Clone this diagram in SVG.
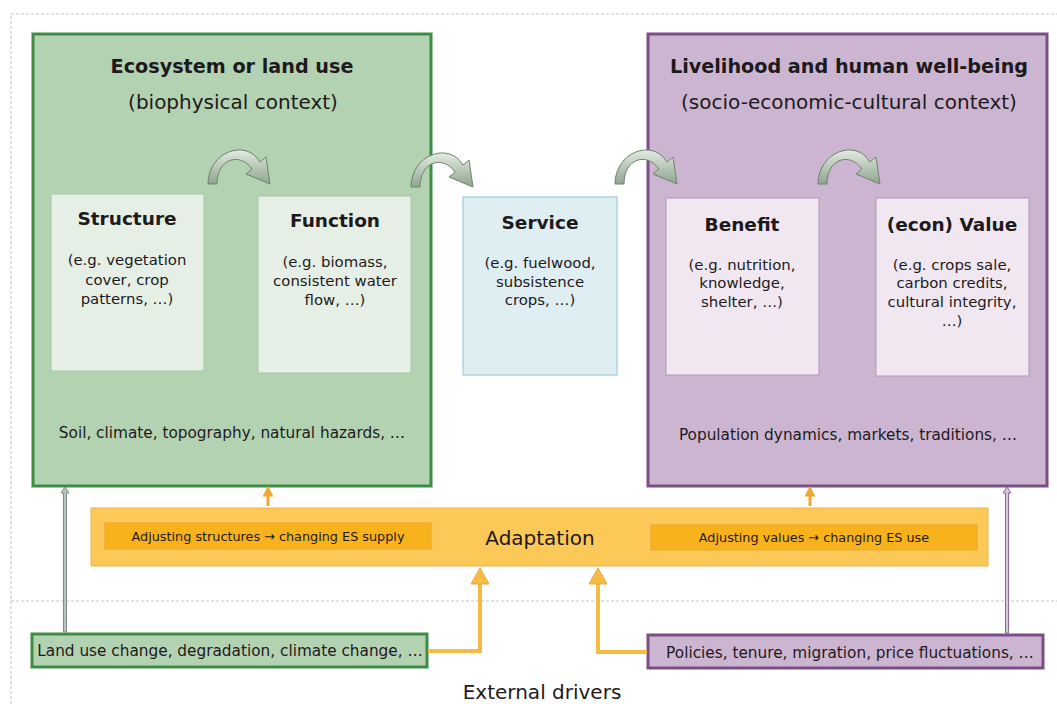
<svg xmlns="http://www.w3.org/2000/svg" width="1057" height="704" viewBox="0 0 1057 704">
<defs>
<style>
text{font-family:"DejaVu Sans","Liberation Sans",sans-serif;fill:#1e1a1c;text-anchor:middle}
.h{font-weight:bold;font-size:19.2px}
.sub{font-size:20px}
.t{font-weight:bold;font-size:18.5px}
.b{font-size:14.9px}
.m{font-size:15.3px}
.s{font-size:12.8px}
.dash{fill:none;stroke:#c4c4c4;stroke-width:1;stroke-dasharray:3 2}
.curve{fill:url(#cg);stroke:#6f836f;stroke-width:1}
.orange{fill:none;stroke:#f6bb45;stroke-width:4}
</style>
<linearGradient id="cg" x1="0" y1="0" x2="0" y2="1">
<stop offset="0" stop-color="#e3ebe1"/>
<stop offset="1" stop-color="#8fa58f"/>
</linearGradient>
<path id="carrow" class="curve" d="M0,36 C0,4 38,-10 52,14 L58,9 L62,36 L38,26 L44,21 C32,4 9,10 9,36 Z"/>
</defs>

<g id="frame">
<path class="dash" d="M11,704 L11,14 L1057,14"/>
<line class="dash" x1="11" y1="601" x2="1057" y2="601"/>
</g>

<g id="ecosystem">
<rect x="33" y="34" width="398" height="452" fill="#b3d2b2" stroke="#3f8c45" stroke-width="3"/>
<text class="h" x="232" y="73">Ecosystem or land use</text>
<text class="sub" x="233" y="109">(biophysical context)</text>
<text class="m" x="232" y="438">Soil, climate, topography, natural hazards, …</text>
</g>

<g id="livelihood">
<rect x="648" y="34" width="399" height="452" fill="#cbb5d0" stroke="#7b4f86" stroke-width="3"/>
<text class="h" x="849" y="73">Livelihood and human well-being</text>
<text class="sub" x="849" y="109">(socio-economic-cultural context)</text>
<text class="m" x="848" y="440">Population dynamics, markets, traditions, …</text>
</g>

<g id="structure">
<rect x="51" y="194" width="153" height="177" fill="#e6efe5" stroke="#a3c7a2" stroke-width="1"/>
<text class="t" x="127" y="225">Structure</text>
<text class="b" x="127" y="265">(e.g. vegetation</text>
<text class="b" x="127" y="285">cover, crop</text>
<text class="b" x="127" y="304">patterns, …)</text>
</g>

<g id="function">
<rect x="258" y="196" width="153" height="177" fill="#e6efe5" stroke="#a3c7a2" stroke-width="1"/>
<text class="t" x="335" y="227">Function</text>
<text class="b" x="335" y="267">(e.g. biomass,</text>
<text class="b" x="335" y="286">consistent water</text>
<text class="b" x="335" y="305">flow, …)</text>
</g>

<g id="service">
<rect x="463" y="197" width="154" height="178" fill="#dfeef3" stroke="#90c5d1" stroke-width="1"/>
<text class="t" x="540" y="229">Service</text>
<text class="b" x="540" y="268">(e.g. fuelwood,</text>
<text class="b" x="540" y="287">subsistence</text>
<text class="b" x="540" y="305">crops, …)</text>
</g>

<g id="benefit">
<rect x="666" y="198" width="153" height="177" fill="#f0e7f0" stroke="#b398ba" stroke-width="1"/>
<text class="t" x="742" y="231">Benefit</text>
<text class="b" x="742" y="270">(e.g. nutrition,</text>
<text class="b" x="742" y="288">knowledge,</text>
<text class="b" x="742" y="307">shelter, …)</text>
</g>

<g id="value">
<rect x="876" y="198" width="153" height="178" fill="#f0e7f0" stroke="#b398ba" stroke-width="1"/>
<text class="t" x="952" y="231">(econ) Value</text>
<text class="b" x="952" y="270">(e.g. crops sale,</text>
<text class="b" x="952" y="288">carbon credits,</text>
<text class="b" x="952" y="307">cultural integrity,</text>
<text class="b" x="952" y="326">…)</text>
</g>

<g id="adaptation">
<rect x="91" y="508" width="897" height="58" fill="#fcc858" stroke="#f0b24a" stroke-width="1"/>
<rect x="105" y="523" width="326" height="26" fill="#f8b31c" stroke="#e9a631" stroke-width="1"/>
<rect x="651" y="525" width="326" height="25" fill="#f8b31c" stroke="#e9a631" stroke-width="1"/>
<text x="540" y="545" style="font-size:20px">Adaptation</text>
<text class="s" x="268" y="541">Adjusting structures → changing ES supply</text>
<text class="s" x="814" y="542">Adjusting values → changing ES use</text>
</g>

<g id="land-drivers">
<rect x="32" y="634" width="395" height="33" fill="#b3d2b2" stroke="#3f8c45" stroke-width="3"/>
<text class="m" x="230" y="656">Land use change, degradation, climate change, …</text>
</g>

<g id="socio-drivers">
<rect x="648" y="635" width="395" height="33" fill="#cbb5d0" stroke="#7b4f86" stroke-width="3"/>
<text class="m" x="850" y="658">Policies, tenure, migration, price fluctuations, …</text>
</g>

<text id="external-drivers" x="542" y="699" style="font-size:20px">External drivers</text>

<g id="connectors">
<use href="#carrow" x="208" y="148"/>
<use href="#carrow" x="411" y="151"/>
<use href="#carrow" x="615" y="148"/>
<use href="#carrow" x="818" y="148"/>
<path d="M268,506 L268,494 M265,495 L268,489 L271,495 Z" fill="#f0a830" stroke="#f0a830" stroke-width="3"/>
<path d="M810,506 L810,494 M807,495 L810,489 L813,495 Z" fill="#f0a830" stroke="#f0a830" stroke-width="3"/>
<path d="M63.5,632 L63.5,493 L61,493 L65,487 L69,493 L66.5,493 L66.5,632 Z" fill="#b9c2bc" stroke="#7e8b82" stroke-width="1"/>
<path d="M1005.5,633 L1005.5,493 L1003,493 L1007,487 L1011,493 L1008.5,493 L1008.5,633 Z" fill="#d7c9dc" stroke="#8a6a94" stroke-width="1"/>
<path class="orange" d="M428,651 L480,651 L480,583"/>
<path d="M471,584 L480,568 L489,584 Z" fill="#f6bb45" stroke="#eaa93a" stroke-width="1"/>
<path class="orange" d="M647,652 L598,652 L598,583"/>
<path d="M589,584 L598,568 L607,584 Z" fill="#f6bb45" stroke="#eaa93a" stroke-width="1"/>
</g>
</svg>
